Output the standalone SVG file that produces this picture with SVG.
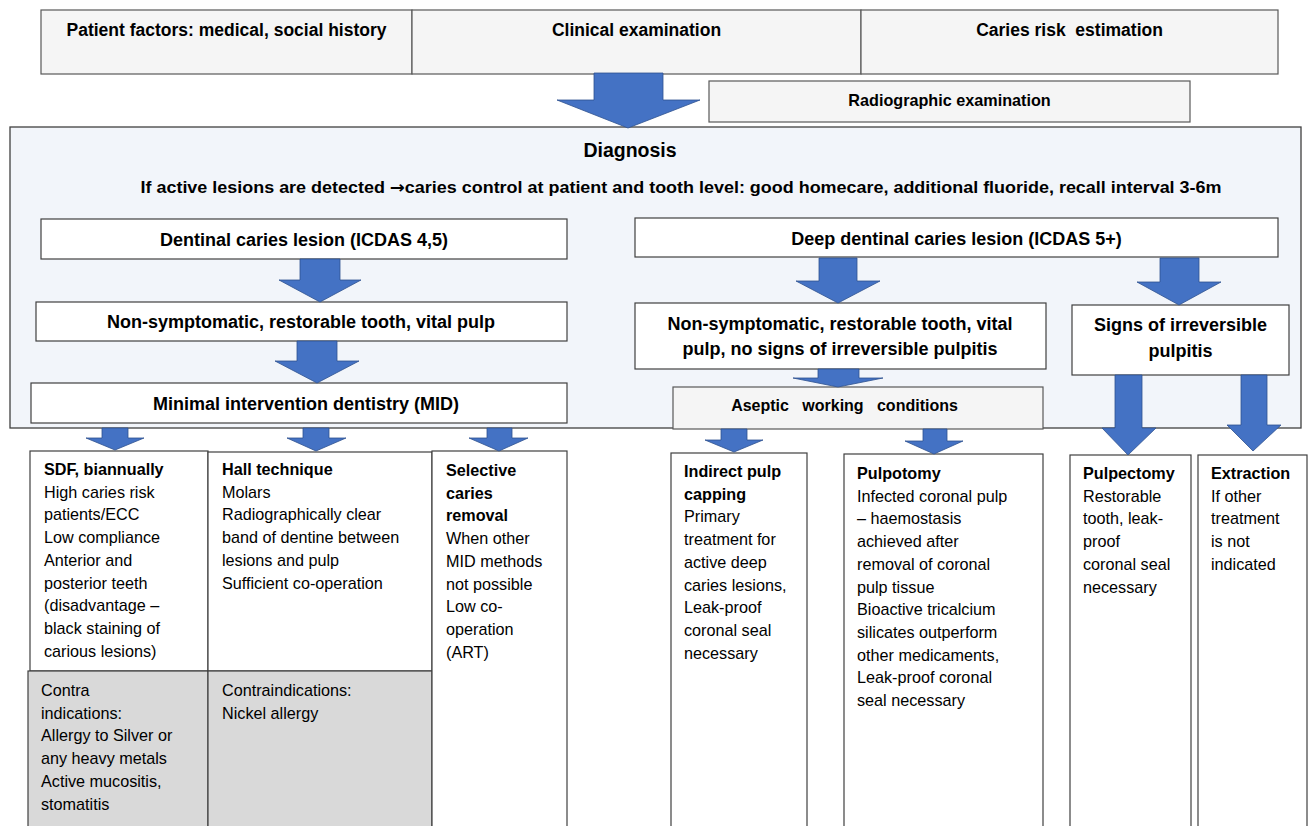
<svg xmlns="http://www.w3.org/2000/svg" width="1309" height="826" viewBox="0 0 1309 826">
<defs>
<style>
.t{font-family:"Liberation Sans",Arial,sans-serif;fill:#000}
.b{font-weight:bold}
.c{text-anchor:middle}
.top{fill:#f5f5f5;stroke:#595959;stroke-width:1.2}
.wb{fill:#fff;stroke:#404040;stroke-width:1.2}
.gb{fill:#d9d9d9;stroke:#404040;stroke-width:1.2}
.arr{fill:#4472c4;stroke:#2f528f;stroke-width:0.8}
.body{font-size:16.2px}
</style>
</defs>
<rect width="1309" height="826" fill="#fff"/>

<g id="container">
<rect x="10" y="127" width="1291" height="301" fill="#f2f5fa" stroke="#404040" stroke-width="1.3"/>
<text class="t b c" x="630" y="157" font-size="19.5">Diagnosis</text>
<text class="t b c" x="681" y="193" font-size="17" textLength="1081" lengthAdjust="spacingAndGlyphs">If active lesions are detected <tspan font-family="'DejaVu Sans',sans-serif">→</tspan>caries control at patient and tooth level: good homecare, additional fluoride, recall interval 3-6m</text>
</g>

<g id="patient-factors">
<rect class="top" x="41" y="10" width="371" height="64"/>
<text class="t b c" x="226.5" y="36" font-size="17.5">Patient factors: medical, social history</text>
</g>
<g id="clinical-exam">
<rect class="top" x="412" y="10" width="449" height="64"/>
<text class="t b c" x="636.5" y="36" font-size="17.5">Clinical examination</text>
</g>
<g id="caries-risk">
<rect class="top" x="861" y="10" width="417" height="64"/>
<text class="t b c" x="1069.5" y="36" font-size="17.5" xml:space="preserve">Caries risk  estimation</text>
</g>
<g id="radiographic">
<rect class="top" x="709" y="81" width="481" height="41"/>
<text class="t b c" x="949.5" y="106" font-size="16.2">Radiographic examination</text>
</g>

<g id="dentinal">
<rect class="wb" x="41" y="219" width="526" height="40"/>
<text class="t b c" x="304" y="246" font-size="18">Dentinal caries lesion (ICDAS 4,5)</text>
</g>
<g id="nonsymp-left">
<rect class="wb" x="36" y="302" width="531" height="39"/>
<text class="t b c" x="301" y="328" font-size="18">Non-symptomatic, restorable tooth, vital pulp</text>
</g>
<g id="mid">
<rect class="wb" x="31" y="383" width="536" height="40"/>
<text class="t b c" x="306" y="410" font-size="18">Minimal intervention dentistry (MID)</text>
</g>

<g id="deep-dentinal">
<rect class="wb" x="635" y="218" width="643" height="39"/>
<text class="t b c" x="956.5" y="245" font-size="18">Deep dentinal caries lesion (ICDAS 5+)</text>
</g>
<g id="nonsymp-right">
<rect class="wb" x="635" y="303" width="411" height="66"/>
<text class="t b c" x="840" y="330" font-size="18">Non-symptomatic, restorable tooth, vital</text>
<text class="t b c" x="840" y="355" font-size="18">pulp, no signs of irreversible pulpitis</text>
</g>
<g id="signs">
<rect class="wb" x="1072" y="305" width="217" height="70"/>
<text class="t b c" x="1180.5" y="331" font-size="18">Signs of irreversible</text>
<text class="t b c" x="1180.5" y="357" font-size="18">pulpitis</text>
</g>
<g id="aseptic">
<rect class="top" x="673" y="387" width="370" height="42"/>
<text class="t b c" x="844.5" y="411" font-size="16" xml:space="preserve">Aseptic   working   conditions</text>
</g>

<g id="sdf">
<rect class="wb" x="30" y="451" width="178" height="220"/>
<text class="t body" x="44" y="475"><tspan class="b">SDF, biannually</tspan><tspan x="44" dy="22.7">High caries risk</tspan><tspan x="44" dy="22.7">patients/ECC</tspan><tspan x="44" dy="22.7">Low compliance</tspan><tspan x="44" dy="22.7">Anterior and</tspan><tspan x="44" dy="22.7">posterior teeth</tspan><tspan x="44" dy="22.7">(disadvantage –</tspan><tspan x="44" dy="22.7">black staining of</tspan><tspan x="44" dy="22.7">carious lesions)</tspan></text>
</g>
<g id="sdf-contra">
<rect class="gb" x="28" y="671" width="180" height="160"/>
<text class="t body" x="41" y="696">Contra<tspan x="41" dy="22.7">indications:</tspan><tspan x="41" dy="22.7">Allergy to Silver or</tspan><tspan x="41" dy="22.7">any heavy metals</tspan><tspan x="41" dy="22.7">Active mucositis,</tspan><tspan x="41" dy="22.7">stomatitis</tspan></text>
</g>
<g id="hall">
<rect class="wb" x="208" y="452" width="224" height="219"/>
<text class="t body" x="222" y="475"><tspan class="b">Hall technique</tspan><tspan x="222" dy="22.7">Molars</tspan><tspan x="222" dy="22.7">Radiographically clear</tspan><tspan x="222" dy="22.7">band of dentine between</tspan><tspan x="222" dy="22.7">lesions and pulp</tspan><tspan x="222" dy="22.7">Sufficient co-operation</tspan></text>
</g>
<g id="hall-contra">
<rect class="gb" x="208" y="671" width="224" height="160"/>
<text class="t body" x="222" y="696">Contraindications:<tspan x="222" dy="22.7">Nickel allergy</tspan></text>
</g>
<g id="selective">
<rect class="wb" x="432" y="451" width="135" height="380"/>
<text class="t body" x="446" y="476"><tspan class="b">Selective</tspan><tspan class="b" x="446" dy="22.7">caries</tspan><tspan class="b" x="446" dy="22.7">removal</tspan><tspan x="446" dy="22.7">When other</tspan><tspan x="446" dy="22.7">MID methods</tspan><tspan x="446" dy="22.7">not possible</tspan><tspan x="446" dy="22.7">Low co-</tspan><tspan x="446" dy="22.7">operation</tspan><tspan x="446" dy="22.7">(ART)</tspan></text>
</g>
<g id="indirect">
<rect class="wb" x="671" y="453" width="136" height="378"/>
<text class="t body" x="684" y="477"><tspan class="b">Indirect pulp</tspan><tspan class="b" x="684" dy="22.7">capping</tspan><tspan x="684" dy="22.7">Primary</tspan><tspan x="684" dy="22.7">treatment for</tspan><tspan x="684" dy="22.7">active deep</tspan><tspan x="684" dy="22.7">caries lesions,</tspan><tspan x="684" dy="22.7">Leak-proof</tspan><tspan x="684" dy="22.7">coronal seal</tspan><tspan x="684" dy="22.7">necessary</tspan></text>
</g>
<g id="pulpotomy">
<rect class="wb" x="844" y="454" width="199" height="377"/>
<text class="t body" x="857" y="479"><tspan class="b">Pulpotomy</tspan><tspan x="857" dy="22.7">Infected coronal pulp</tspan><tspan x="857" dy="22.7">– haemostasis</tspan><tspan x="857" dy="22.7">achieved after</tspan><tspan x="857" dy="22.7">removal of coronal</tspan><tspan x="857" dy="22.7">pulp tissue</tspan><tspan x="857" dy="22.7">Bioactive tricalcium</tspan><tspan x="857" dy="22.7">silicates outperform</tspan><tspan x="857" dy="22.7">other medicaments,</tspan><tspan x="857" dy="22.7">Leak-proof coronal</tspan><tspan x="857" dy="22.7">seal necessary</tspan></text>
</g>
<g id="pulpectomy">
<rect class="wb" x="1070" y="455" width="121" height="376"/>
<text class="t body" x="1083" y="479"><tspan class="b">Pulpectomy</tspan><tspan x="1083" dy="22.7">Restorable</tspan><tspan x="1083" dy="22.7">tooth, leak-</tspan><tspan x="1083" dy="22.7">proof</tspan><tspan x="1083" dy="22.7">coronal seal</tspan><tspan x="1083" dy="22.7">necessary</tspan></text>
</g>
<g id="extraction">
<rect class="wb" x="1198" y="455" width="109" height="376"/>
<text class="t body" x="1211" y="479"><tspan class="b">Extraction</tspan><tspan x="1211" dy="22.7">If other</tspan><tspan x="1211" dy="22.7">treatment</tspan><tspan x="1211" dy="22.7">is not</tspan><tspan x="1211" dy="22.7">indicated</tspan></text>
</g>

<g id="connectors">
<polygon class="arr" points="594,73 663,73 663,100 700,100 628,128 557,100 594,100"/>
<polygon class="arr" points="300,259 340,259 340,280 361,280 320,302 279,280 300,280"/>
<polygon class="arr" points="297,341 337,341 337,361 359,361 317,383 275,361 297,361"/>
<polygon class="arr" points="102,428 128,428 128,438 144,438 115,450 86,438 102,438"/>
<polygon class="arr" points="303,428 329,428 329,438 346,438 316,451 287,438 303,438"/>
<polygon class="arr" points="487,428 512,428 512,438 528,438 499,451 469,438 487,438"/>
<polygon class="arr" points="819,258 857,258 857,281 880,281 838,303 796,281 819,281"/>
<polygon class="arr" points="1160,258 1199,258 1199,282 1221,282 1179,305 1137,282 1160,282"/>
<polygon class="arr" points="818,369 859,369 859,378 883,378 838,387 793,378 818,378"/>
<polygon class="arr" points="721,429 747,429 747,440 763,440 734,452 705,440 721,440"/>
<polygon class="arr" points="923,429 947,429 947,441 963,441 934,454 905,441 923,441"/>
<polygon class="arr" points="1115,375 1142,375 1142,428 1156,428 1128,455 1102,428 1115,428"/>
<polygon class="arr" points="1241,375 1267,375 1267,425 1281,425 1253,451 1227,425 1241,425"/>
</g>
</svg>
